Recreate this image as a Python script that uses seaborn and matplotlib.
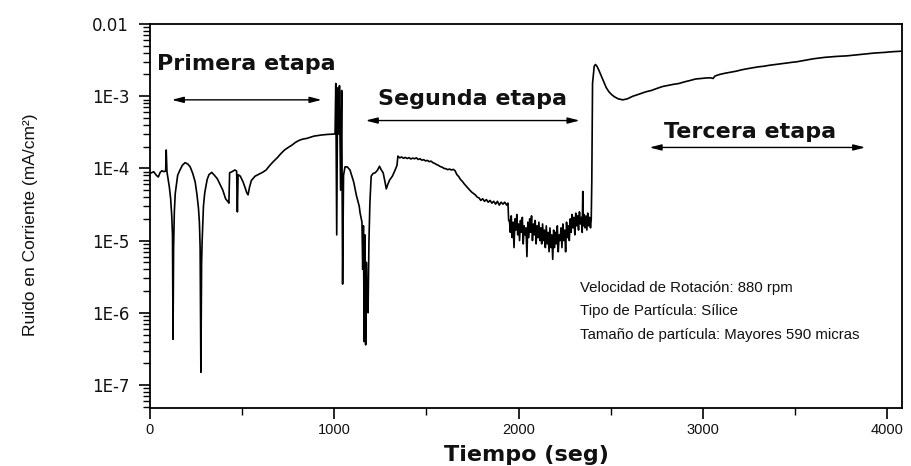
import matplotlib
matplotlib.use("Agg")
import matplotlib.pyplot as plt
import pandas as pd
import seaborn as sns
from matplotlib import font_manager
from matplotlib.ticker import FixedLocator, FixedFormatter, NullFormatter, MultipleLocator

# ---- data: (tiempo [s], ruido en corriente [mA/cm2]) ----
primera_etapa = [
    (0, 8.5e-5), (20, 9.0e-5), (35, 8.0e-5), (45, 7.6e-5), (55, 8.8e-5), (65, 9.3e-5),
    (75, 9.0e-5), (85, 9.2e-5), (88, 1.8e-4), (92, 9.0e-5), (97, 7.5e-5), (105, 5.5e-5),
    (112, 3.8e-5), (118, 2.2e-5), (122, 1.2e-5), (125, 4.3e-7), (128, 8e-6), (132, 2.5e-5),
    (137, 4.5e-5), (150, 8.0e-5), (160, 9.2e-5), (175, 1.1e-4), (190, 1.2e-4), (205, 1.15e-4),
    (218, 1.05e-4), (232, 8.5e-5), (245, 6.5e-5), (255, 4.3e-5), (263, 2.8e-5), (268, 1.8e-5),
    (272, 8e-6), (276, 1.5e-7), (280, 5e-6), (283, 1.0e-5), (290, 3.0e-5), (297, 4.6e-5),
    (310, 7.0e-5), (320, 8.2e-5), (335, 8.8e-5), (350, 8.0e-5), (365, 7.2e-5), (380, 6.0e-5),
    (395, 5.0e-5), (410, 3.8e-5), (425, 3.4e-5), (428, 3.3e-5), (432, 8.7e-5), (445, 9.0e-5),
    (460, 9.5e-5), (470, 9.2e-5), (474, 2.5e-5), (478, 8.2e-5), (490, 7.8e-5), (505, 6.5e-5),
    (515, 5.5e-5), (525, 4.6e-5), (532, 4.3e-5), (540, 5.5e-5), (550, 6.8e-5), (570, 7.8e-5),
    (590, 8.3e-5), (610, 8.8e-5), (630, 9.5e-5), (650, 1.1e-4), (670, 1.25e-4), (690, 1.4e-4),
    (710, 1.6e-4), (730, 1.8e-4), (750, 1.95e-4), (770, 2.1e-4), (790, 2.3e-4), (810, 2.45e-4),
    (830, 2.55e-4), (850, 2.6e-4), (870, 2.7e-4), (890, 2.8e-4), (910, 2.85e-4), (930, 2.9e-4),
    (960, 2.95e-4), (1000, 3.0e-4),
]

transicion = [
    (1004, 3.0e-4), (1008, 1.5e-3), (1013, 1.2e-5), (1018, 1.3e-3), (1023, 3.0e-4), (1028, 1.4e-3),
    (1034, 5.0e-5), (1040, 1.2e-3), (1045, 2.5e-6), (1050, 8.0e-5), (1058, 1.05e-4), (1070, 1.05e-4),
    (1085, 9.5e-5), (1105, 6.5e-5), (1120, 4.2e-5), (1135, 3.0e-5), (1140, 2.4e-5), (1150, 1.8e-5),
    (1154, 4.0e-6), (1158, 1.6e-5), (1162, 4.0e-7), (1166, 1.2e-5), (1170, 3.6e-7), (1174, 5.0e-6),
    (1178, 1.5e-6), (1183, 1.0e-6), (1188, 1.0e-5), (1193, 3.3e-5), (1200, 7.8e-5), (1210, 8.5e-5),
    (1222, 8.7e-5), (1235, 9.5e-5), (1245, 1.07e-4), (1255, 9.5e-5), (1265, 8.7e-5), (1275, 6.5e-5),
    (1282, 5.2e-5), (1290, 6.0e-5), (1300, 6.9e-5), (1315, 7.8e-5), (1330, 9.5e-5), (1340, 1.1e-4),
]

segunda_etapa = [
    (1345, 1.48e-4), (1355, 1.40e-4), (1365, 1.44e-4), (1375, 1.38e-4), (1385, 1.42e-4),
    (1395, 1.37e-4), (1405, 1.41e-4), (1415, 1.35e-4), (1425, 1.39e-4), (1435, 1.36e-4),
    (1445, 1.40e-4), (1455, 1.33e-4), (1465, 1.36e-4), (1475, 1.30e-4), (1485, 1.32e-4),
    (1495, 1.27e-4), (1505, 1.29e-4), (1515, 1.24e-4), (1525, 1.26e-4), (1535, 1.20e-4),
    (1545, 1.17e-4), (1555, 1.13e-4), (1565, 1.10e-4), (1575, 1.06e-4), (1585, 1.04e-4),
    (1595, 1.00e-4), (1605, 9.9e-5), (1615, 9.6e-5), (1625, 9.8e-5), (1635, 9.5e-5),
    (1645, 9.7e-5), (1655, 9.3e-5), (1665, 8.2e-5), (1675, 7.7e-5), (1685, 7.0e-5),
    (1695, 6.6e-5), (1705, 6.1e-5), (1715, 5.7e-5), (1725, 5.3e-5), (1735, 5.0e-5),
    (1745, 4.7e-5), (1755, 4.5e-5), (1765, 4.3e-5), (1775, 4.0e-5), (1785, 3.9e-5),
    (1795, 3.6e-5), (1805, 3.8e-5), (1815, 3.5e-5), (1825, 3.7e-5), (1835, 3.4e-5),
    (1845, 3.6e-5), (1855, 3.3e-5), (1865, 3.5e-5), (1875, 3.2e-5), (1885, 3.5e-5),
    (1895, 3.1e-5), (1905, 3.4e-5), (1915, 3.2e-5), (1925, 3.4e-5), (1935, 3.1e-5),
    (1942, 3.3e-5), (1946, 1.9e-5),
]

segunda_ruidosa = [
    (1950, 1.9e-5), (1955, 1.3e-5), (1960, 2.2e-5), (1965, 1.1e-5), (1970, 1.8e-5), (1975, 0.8e-5),
    (1980, 2.0e-5), (1985, 1.4e-5), (1990, 2.3e-5), (1995, 1.2e-5), (2000, 1.7e-5), (2005, 1.0e-5),
    (2010, 1.9e-5), (2015, 1.3e-5), (2020, 2.1e-5), (2025, 0.9e-5), (2030, 1.6e-5), (2035, 1.2e-5),
    (2040, 1.5e-5), (2045, 0.6e-5), (2050, 1.8e-5), (2055, 1.1e-5), (2060, 2.0e-5), (2065, 1.3e-5),
    (2070, 2.2e-5), (2075, 1.0e-5), (2080, 1.7e-5), (2085, 1.2e-5), (2090, 1.9e-5), (2095, 0.9e-5),
    (2100, 1.6e-5), (2105, 1.1e-5), (2110, 1.8e-5), (2115, 1.0e-5), (2120, 1.5e-5), (2125, 0.9e-5),
    (2130, 1.7e-5), (2135, 1.0e-5), (2140, 1.4e-5), (2145, 0.8e-5), (2150, 1.6e-5), (2155, 0.9e-5),
    (2160, 1.3e-5), (2165, 0.7e-5), (2170, 1.5e-5), (2175, 0.8e-5), (2180, 1.2e-5), (2185, 0.55e-5),
    (2190, 1.4e-5), (2195, 0.8e-5), (2200, 1.3e-5), (2205, 0.9e-5), (2210, 1.6e-5), (2215, 0.7e-5),
    (2220, 1.2e-5), (2225, 1.0e-5), (2230, 1.5e-5), (2235, 0.8e-5), (2240, 1.7e-5), (2245, 1.0e-5),
    (2250, 1.4e-5), (2255, 0.7e-5), (2260, 1.8e-5), (2265, 1.1e-5), (2270, 1.6e-5), (2275, 1.0e-5),
    (2280, 2.0e-5), (2285, 1.3e-5), (2290, 2.3e-5), (2295, 1.5e-5), (2300, 2.1e-5), (2305, 1.2e-5),
    (2310, 2.4e-5), (2315, 1.6e-5), (2320, 2.2e-5), (2325, 1.4e-5), (2330, 2.5e-5), (2335, 1.7e-5),
    (2340, 2.1e-5), (2345, 1.3e-5), (2348, 4.8e-5), (2351, 1.6e-5), (2355, 2.3e-5), (2360, 1.5e-5),
    (2365, 2.2e-5), (2370, 1.4e-5), (2375, 2.4e-5), (2380, 1.6e-5), (2385, 2.1e-5), (2390, 1.5e-5),
    (2394, 2.0e-5), (2397, 6.6e-5),
]

tercera_etapa = [
    (2401, 1.5e-3), (2410, 2.6e-3), (2417, 2.75e-3), (2425, 2.6e-3), (2435, 2.3e-3), (2445, 2.0e-3),
    (2455, 1.75e-3), (2465, 1.5e-3), (2475, 1.32e-3), (2490, 1.15e-3), (2505, 1.05e-3), (2520, 9.8e-4),
    (2540, 9.2e-4), (2565, 8.9e-4), (2590, 9.2e-4), (2620, 1.0e-3), (2650, 1.06e-3), (2690, 1.15e-3),
    (2720, 1.2e-3), (2750, 1.28e-3), (2780, 1.36e-3), (2810, 1.41e-3), (2840, 1.46e-3), (2870, 1.5e-3),
    (2900, 1.58e-3), (2930, 1.65e-3), (2960, 1.73e-3), (2990, 1.76e-3), (3020, 1.79e-3), (3040, 1.8e-3),
    (3055, 1.76e-3), (3065, 1.9e-3), (3090, 2.0e-3), (3120, 2.08e-3), (3150, 2.15e-3), (3180, 2.22e-3),
    (3210, 2.32e-3), (3240, 2.4e-3), (3270, 2.47e-3), (3300, 2.55e-3), (3330, 2.6e-3), (3360, 2.68e-3),
    (3390, 2.74e-3), (3420, 2.8e-3), (3450, 2.87e-3), (3480, 2.94e-3), (3510, 3.0e-3), (3540, 3.1e-3),
    (3570, 3.2e-3), (3600, 3.3e-3), (3630, 3.38e-3), (3660, 3.45e-3), (3690, 3.5e-3), (3720, 3.55e-3),
    (3750, 3.58e-3), (3780, 3.62e-3), (3810, 3.68e-3), (3840, 3.75e-3), (3870, 3.82e-3), (3900, 3.9e-3),
    (3930, 3.96e-3), (3960, 4.0e-3), (3990, 4.05e-3), (4020, 4.12e-3), (4050, 4.16e-3), (4075, 4.2e-3),
]

y_ticks = [1e-7, 1e-6, 1e-5, 1e-4, 1e-3, 1e-2]
y_tick_labels = ["1E-7", "1E-6", "1E-5", "1E-4", "1E-3", "0.01"]
x_ticks = [0, 1000, 2000, 3000, 4000]

etapas = [
    # (texto, x_texto, y_texto, x_inicio_flecha, x_fin_flecha, y_flecha)
    ("Primera etapa", 521, 2.82e-3, 118, 931, 8.9e-4),
    ("Segunda etapa", 1751, 9.2e-4, 1170, 2331, 4.6e-4),
    ("Tercera etapa", 3255, 3.2e-4, 2710, 3881, 1.95e-4),
]

condiciones = [
    "Velocidad de Rotación: 880 rpm",
    "Tipo de Partícula: Sílice",
    "Tamaño de partícula: Mayores 590 micras",
]

# ---- figure ----
sns.set_style("ticks")
plt.rcParams["font.family"] = ["Liberation Sans", "DejaVu Sans"]
plt.rcParams["ytick.minor.visible"] = True
plt.rcParams["xtick.minor.visible"] = True

# a narrow face for the rotated axis title, if one is installed
nombres = {f.name for f in font_manager.fontManager.ttflist}
fuente_ylabel = "Liberation Sans Narrow" if "Liberation Sans Narrow" in nombres else "Liberation Sans"
tam_ylabel = 15 if fuente_ylabel == "Liberation Sans Narrow" else 12.5

fig = plt.figure(figsize=(9.11, 4.66), dpi=100)
ax = fig.add_axes([150 / 911, 58 / 466, 752 / 911, 384 / 466])

serie = primera_etapa + transicion + segunda_etapa + segunda_ruidosa + tercera_etapa
df = pd.DataFrame(serie, columns=["Tiempo", "Ruido"])

sns.lineplot(data=df, x="Tiempo", y="Ruido", estimator=None, sort=False,
             color="black", linewidth=1.2, ax=ax)

ax.set_yscale("log")
ax.set_xlim(0, 4080)
ax.set_ylim(4.8e-8, 1e-2)

menores_y = [m * 10.0 ** e for e in range(-8, -2) for m in range(2, 10)]
ax.yaxis.set_major_locator(FixedLocator(y_ticks))
ax.yaxis.set_major_formatter(FixedFormatter(y_tick_labels))
ax.yaxis.set_minor_locator(FixedLocator(menores_y))
ax.yaxis.set_minor_formatter(NullFormatter())
ax.xaxis.set_major_locator(FixedLocator(x_ticks))
ax.xaxis.set_minor_locator(MultipleLocator(500))

ax.tick_params(which="major", direction="out", length=8, width=1.2, color="black",
               left=True, bottom=True, top=False, right=False)
ax.tick_params(which="minor", direction="out", length=5, width=1.0, color="black",
               left=True, bottom=True, top=False, right=False)
ax.tick_params(axis="x", which="major", labelsize=10.5, pad=3, labelcolor="#111111")
ax.tick_params(axis="y", which="major", pad=7, labelcolor="#111111")
for lbl in ax.get_yticklabels():
    lbl.set_fontfamily("DejaVu Sans")
    lbl.set_fontsize(12)

for side in ["left", "right", "top", "bottom"]:
    ax.spines[side].set_visible(True)
    ax.spines[side].set_linewidth(1.3)
    ax.spines[side].set_color("black")

ax.set_xlabel("Tiempo (seg)", fontsize=16, fontweight="bold", family="DejaVu Sans",
              va="center", color="#111111")
ax.xaxis.set_label_coords(0.501, -0.122)
ax.set_ylabel("Ruido en Corriente (mA/cm²)", fontsize=tam_ylabel, family=fuente_ylabel,
              va="center", color="#111111")
ax.yaxis.set_label_coords(-0.159, 0.477)

for texto, xt, yt, x0, x1, ya in etapas:
    ax.text(xt, yt, texto, ha="center", va="center", fontsize=16,
            fontweight="bold", family="DejaVu Sans", color="#111111")
    ax.annotate("", xy=(x1, ya), xytext=(x0, ya),
                arrowprops=dict(arrowstyle="<|-|>,head_length=0.7,head_width=0.18",
                                color="black", lw=1.0, shrinkA=0, shrinkB=0))

for k, linea in enumerate(condiciones):
    ax.text(0.572, 0.3125 - k * 0.061, linea, transform=ax.transAxes,
            ha="left", va="center", fontsize=10.8, color="#111111")

fig.savefig("out.png", dpi=100, facecolor="white")
